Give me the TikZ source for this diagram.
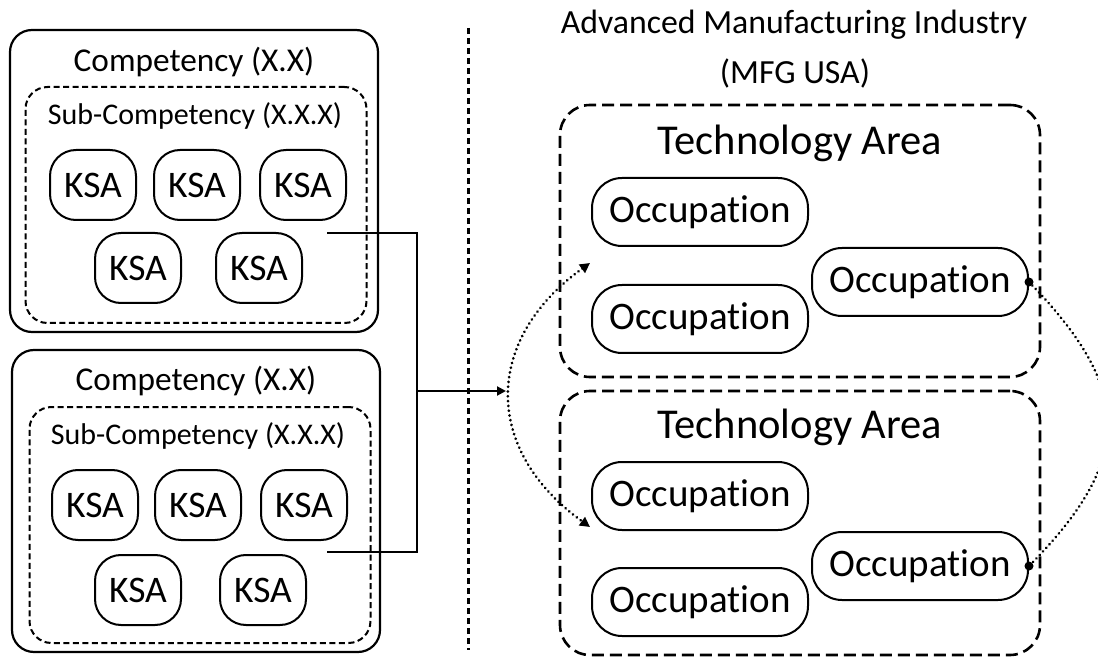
\documentclass[tikz,border=0pt]{standalone}
\usepackage{fontspec}
\setmainfont{Carlito}[Ligatures=NoCommon]
\usetikzlibrary{arrows.meta,calc}
\begin{document}
\begin{tikzpicture}[x=1pt,y=-1pt,
  compbox/.style={draw,line width=2.2pt,rounded corners=22pt,minimum width=368pt,minimum height=302pt,inner sep=0pt},
  subbox/.style={draw,line width=2pt,dash pattern=on 6pt off 3.5pt,rounded corners=22pt,minimum width=341pt,minimum height=236pt,inner sep=0pt},
  ksa/.style={draw,line width=2pt,rounded corners=26pt,minimum width=86pt,minimum height=70pt,inner sep=0pt,font=\fontsize{37.5}{40}\selectfont},
  techbox/.style={draw,line width=2.6pt,dash pattern=on 12pt off 6pt,rounded corners=30pt,minimum width=480pt,inner sep=0pt},
  occ/.style={draw,line width=2pt,rounded corners=30pt,minimum width=216pt,minimum height=68pt,inner sep=0pt,font=\fontsize{39}{42}\selectfont},
  comptext/.style={font=\fontsize{33.3}{36}\selectfont,inner sep=0pt},
  subtext/.style={font=\fontsize{30}{32}\selectfont,inner sep=0pt},
  techtext/.style={font=\fontsize{42.5}{46}\selectfont,inner sep=0pt},
  titletext/.style={font=\fontsize{33.8}{38}\selectfont,inner sep=0pt},
  conn/.style={line width=2pt},
  dots/.style={line width=3pt,line cap=round,dash pattern=on 0.01pt off 4.8pt},
  enddot/.style={fill=black}
]
\useasboundingbox (0,0) rectangle (1098,660);
\fill[white] (0,0) rectangle (1098,660);

% ---------- left: competencies ----------
\node[compbox] (comp1) at (194,181) {};
\node[subbox] (sub1) at (196,205) {};
\node[comptext] (comp1t) at (194,62) {Competency (X.X)};
\node[subtext] (sub1t) at (195,116) {Sub-Competency (X.X.X)};
\node[ksa] (k11) at (93,185) {KSA};
\node[ksa] (k12) at (197,185) {KSA};
\node[ksa] (k13) at (303,185) {KSA};
\node[ksa] (k14) at (138,268) {KSA};
\node[ksa] (k15) at (259,268) {KSA};

\node[compbox] (comp2) at (196,501) {};
\node[subbox] (sub2) at (200,525) {};
\node[comptext] (comp2t) at (196,381) {Competency (X.X)};
\node[subtext] (sub2t) at (198,436) {Sub-Competency (X.X.X)};
\node[ksa] (k21) at (95,505) {KSA};
\node[ksa] (k22) at (198,505) {KSA};
\node[ksa] (k23) at (304,505) {KSA};
\node[ksa] (k24) at (138,590) {KSA};
\node[ksa] (k25) at (263,590) {KSA};

% ---------- connector ----------
\coordinate (s1) at (327,233);
\coordinate (s2) at (327,552);
\coordinate (jn) at (417,391);
\coordinate (ae) at (506,391);
\draw[conn] (s1) -| (jn) |- (s2);
\draw[conn,-{Triangle[length=9pt,width=9pt]}] (jn) -- (ae);

% ---------- divider ----------
\coordinate (dv1) at (468,28);
\coordinate (dv2) at (468,650);
\draw[line width=3pt,dash pattern=on 6pt off 4pt] (dv1) -- (dv2);

% ---------- right: industry ----------
\node[titletext] (title1) at (794,25) {Advanced Manufacturing Industry};
\node[titletext] (title2) at (795,73) {(MFG USA)};

\node[techbox,minimum height=272pt] (tech1) at (800,241) {};
\node[techtext] (tech1t) at (800,143) {Technology Area};
\node[occ] (o11) at (700,212) {Occupation};
\node[occ] (o1r) at (920,282) {Occupation};
\node[occ] (o12) at (700,319) {Occupation};

\node[techbox,minimum height=264pt] (tech2) at (800,523) {};
\node[techtext] (tech2t) at (800,427) {Technology Area};
\node[occ] (o21) at (700,496) {Occupation};
\node[occ] (o2r) at (920,566) {Occupation};
\node[occ] (o22) at (700,602) {Occupation};

% ---------- dotted relations ----------
\coordinate (la) at (590,263);
\coordinate (lb) at (590,527);
\draw[dots,{Triangle[length=10pt,width=10pt]}-{Triangle[length=10pt,width=10pt]}]
  (la) .. controls (483,340) and (483,450) .. (lb);
\draw[dots]
  (o1r.east) .. controls (1134,390) and (1134,460) .. (o2r.east);
\fill[enddot] (o1r.east) circle (4.5pt);
\fill[enddot] (o2r.east) circle (4.5pt);
\end{tikzpicture}
\end{document}
